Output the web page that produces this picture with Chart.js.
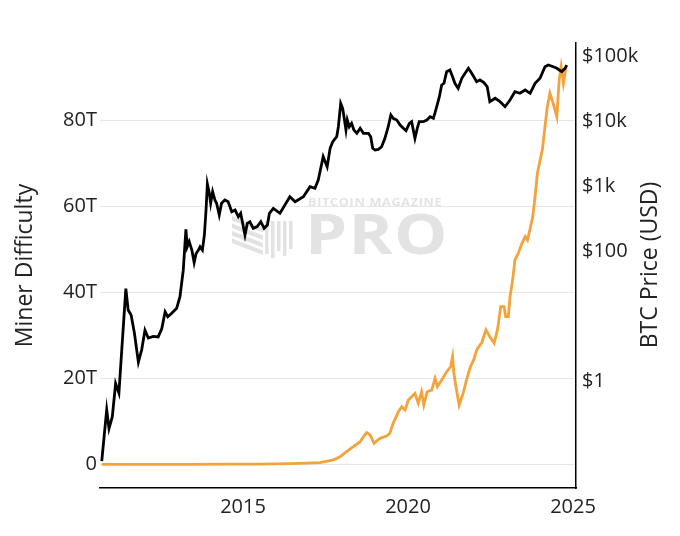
<!DOCTYPE html>
<html>
<head>
<meta charset="utf-8">
<script src="https://cdn.jsdelivr.net/npm/chart.js@4.4.1/dist/chart.umd.min.js"></script>
<style>
  html, body { margin: 0; padding: 0; background: #ffffff; }
  #wrap { width: 680px; height: 536px; position: relative; }
</style>
</head>
<body>
<div id="wrap"><canvas id="c" width="680" height="536"></canvas></div>
<script>
// ---- data ----
const xTickYears = [2015, 2020, 2025];

const diffTickValues = [0, 20, 40, 60, 80];
const diffTickLabels = ['0', '20T', '40T', '60T', '80T'];

const priceTickValues = [1, 100, 1000, 10000, 100000];
const priceTickLabels = ['$1', '$100', '$1k', '$10k', '$100k'];

// BTC price (USD), log axis on the right — drawn in black
const priceYears = [
  2010.72, 2010.87, 2010.94, 2011.04, 2011.14, 2011.24, 2011.45, 2011.52, 2011.61, 2011.71,
  2011.83, 2011.93, 2012.03, 2012.13, 2012.28, 2012.43, 2012.54, 2012.64, 2012.72, 2012.84,
  2012.99, 2013.09, 2013.19, 2013.27, 2013.31, 2013.37, 2013.45, 2013.52, 2013.58, 2013.65,
  2013.70, 2013.77, 2013.83, 2013.88, 2013.92, 2013.98, 2014.02, 2014.08, 2014.15, 2014.20,
  2014.28, 2014.35, 2014.45, 2014.55, 2014.66, 2014.76, 2014.86, 2014.93, 2015.01, 2015.06,
  2015.13, 2015.21, 2015.31, 2015.43, 2015.54, 2015.64, 2015.74, 2015.80, 2015.92, 2016.12,
  2016.42, 2016.58, 2016.83, 2017.03, 2017.18, 2017.28, 2017.43, 2017.55, 2017.64, 2017.72,
  2017.84, 2017.89, 2017.96, 2018.02, 2018.06, 2018.12, 2018.16, 2018.22, 2018.29, 2018.36,
  2018.45, 2018.55, 2018.65, 2018.80, 2018.87, 2018.93, 2019.00, 2019.10, 2019.20, 2019.30,
  2019.40, 2019.48, 2019.55, 2019.66, 2019.76, 2019.86, 2019.94, 2020.04, 2020.11, 2020.21,
  2020.28, 2020.34, 2020.46, 2020.57, 2020.67, 2020.77, 2020.87, 2020.95, 2021.02, 2021.09,
  2021.17, 2021.27, 2021.35, 2021.42, 2021.52, 2021.63, 2021.73, 2021.83, 2021.93, 2022.08,
  2022.18, 2022.30, 2022.40, 2022.48, 2022.64, 2022.79, 2022.94, 2023.09, 2023.24, 2023.39,
  2023.55, 2023.70, 2023.85, 2024.00, 2024.15, 2024.25, 2024.40, 2024.51, 2024.66, 2024.76,
  2024.81];
const priceUSD = [
  0.06, 0.37, 0.19, 0.29, 0.94, 0.67, 27, 12.7, 10.6, 5.6,
  2.0, 3.1, 6.2, 4.7, 5.0, 4.9, 6.6, 11.9, 10, 11.3,
  13.5, 20.3, 52, 221, 119, 143, 106, 68, 94, 106,
  119, 106, 181, 438, 1100, 791, 556, 838, 624, 556,
  367, 556, 624, 588, 412, 438, 345, 390, 243, 181,
  273, 290, 229, 243, 290, 229, 258, 390, 465, 390,
  702, 588, 702, 1000, 944, 1268, 2896, 2030, 3900, 4920,
  5880, 8380, 19190, 16070, 11940, 7450, 10620, 8380, 9440, 7450,
  6630, 7910, 6630, 6630, 5880, 3900, 3670, 3760, 4120, 5560,
  8380, 12680, 11270, 10620, 8900, 7910, 7280, 9440, 10000, 5560,
  7910, 10000, 10000, 10620, 11940, 11270, 17010, 24260, 36730, 38990,
  58750, 62370, 49200, 38990, 32640, 46550, 55590, 66370, 55590, 41210,
  43850, 40000, 34530, 20320, 22920, 20320, 17010, 21580, 28960, 27350,
  30760, 27350, 38990, 46550, 70140, 74470, 70000, 66370, 58750, 66370,
  74470];

// Miner difficulty (trillions), linear axis on the left — drawn in orange
const diffYears = [
  2010.72, 2011.5, 2012.5, 2013.5, 2014.5, 2015.5, 2016.0, 2016.73, 2017.33, 2017.74,
  2017.94, 2018.14, 2018.34, 2018.55, 2018.65, 2018.75, 2018.85, 2018.97, 2019.15, 2019.35,
  2019.45, 2019.55, 2019.71, 2019.81, 2019.91, 2020.01, 2020.11, 2020.21, 2020.31, 2020.41,
  2020.48, 2020.58, 2020.72, 2020.82, 2020.89, 2021.02, 2021.17, 2021.29, 2021.35, 2021.39,
  2021.47, 2021.55, 2021.67, 2021.77, 2021.89, 2021.99, 2022.08, 2022.18, 2022.23, 2022.36,
  2022.48, 2022.61, 2022.71, 2022.81, 2022.91, 2022.96, 2023.04, 2023.09, 2023.17, 2023.24,
  2023.34, 2023.45, 2023.55, 2023.62, 2023.70, 2023.78, 2023.85, 2023.92, 2024.00, 2024.07,
  2024.15, 2024.22, 2024.30, 2024.40, 2024.51, 2024.58, 2024.64, 2024.71, 2024.79];
const diffT = [
  0.00001, 0.000001, 0.000003, 0.00003, 0.02, 0.05, 0.1, 0.23, 0.37, 1.0,
  1.77, 2.93, 4.1, 5.26, 6.43, 7.36, 6.82, 4.89, 6.05, 6.59,
  7.22, 9.54, 12.25, 13.41, 12.64, 14.97, 15.74, 16.53, 14.2, 16.9,
  13.8, 16.9, 17.3, 20.0, 18.07, 19.6, 21.56, 22.7, 25.05, 21.2,
  17.3, 13.8, 16.53, 19.6, 22.7, 24.3, 26.6, 27.8, 28.2, 31.3,
  29.7, 28.2, 31.3, 36.7, 36.7, 34.4, 34.4, 39.0, 42.9, 47.6,
  49.1, 51.4, 53.0, 52.2, 54.9, 57.6, 62.3, 67.7, 70.8, 73.2,
  78.6, 83.2, 86.4, 84.0, 80.9, 89.5, 92.6, 88.7, 92.6];

// ---- chart ----
const FONT = '"Open Sans", "DejaVu Sans", sans-serif';
const TEXT = '#222222';

const watermark = {
  id: 'watermark',
  beforeDatasetsDraw(chart) {
    const ctx = chart.ctx;
    ctx.save();
    ctx.fillStyle = '#e2e2e2';
    // logo: diagonal bands + vertical bars
    for (let i = 0; i < 4; i++) {
      const y0 = 216 + i * 7.5;
      ctx.beginPath();
      ctx.moveTo(232, y0);
      ctx.lineTo(263, y0 + 12);
      ctx.lineTo(263, y0 + 16.5);
      ctx.lineTo(232, y0 + 4.5);
      ctx.closePath();
      ctx.fill();
    }
    const bars = [[265, 254], [271, 258], [277, 251], [283, 256], [289, 249]];
    bars.forEach(b => ctx.fillRect(b[0], 221, 3.5, b[1] - 221));
    ctx.fillStyle = '#e3e3e3';
    ctx.textAlign = 'left';
    ctx.textBaseline = 'alphabetic';
    ctx.save();
    ctx.translate(308, 206);
    ctx.scale(1.15, 1);
    ctx.font = 'bold 11px ' + FONT;
    try { ctx.letterSpacing = '0.6px'; } catch (e) {}
    ctx.fillText('BITCOIN MAGAZINE', 0, 0);
    ctx.restore();
    ctx.save();
    ctx.translate(305, 254);
    ctx.scale(1.2, 1);
    ctx.font = 'bold 56px ' + FONT;
    try { ctx.letterSpacing = '1px'; } catch (e) {}
    ctx.fillText('PRO', 0, 0);
    ctx.restore();
    ctx.restore();
  },
  afterDraw(chart) {
    const ctx = chart.ctx;
    ctx.save();
    ctx.translate(650, 265);
    ctx.rotate(-Math.PI / 2);
    ctx.font = '23px ' + FONT;
    ctx.fillStyle = TEXT;
    ctx.textAlign = 'center';
    ctx.textBaseline = 'middle';
    ctx.fillText('BTC Price (USD)', 0, 0);
    ctx.restore();
  }
};

new Chart(document.getElementById('c'), {
  type: 'line',
  data: {
    datasets: [
      {
        label: 'BTC Price',
        data: priceYears.map((x, i) => ({ x: x, y: priceUSD[i] })),
        yAxisID: 'yPrice',
        borderColor: '#000000',
        borderWidth: 2.8,
        pointRadius: 0,
        tension: 0,
        fill: false
      },
      {
        label: 'Miner Difficulty',
        data: diffYears.map((x, i) => ({ x: x, y: diffT[i] })),
        yAxisID: 'yDiff',
        borderColor: '#f4a23a',
        borderWidth: 2.8,
        pointRadius: 0,
        tension: 0,
        fill: false
      }
    ]
  },
  options: {
    responsive: false,
    animation: false,
    devicePixelRatio: 1,
    layout: { padding: { top: 43, left: 0, right: 0, bottom: 0 } },
    plugins: { legend: { display: false }, tooltip: { enabled: false } },
    scales: {
      x: {
        type: 'linear',
        min: 2010.667,
        max: 2025.09,
        afterBuildTicks: s => { s.ticks = xTickYears.map(v => ({ value: v })); },
        afterFit: s => { s.height = 48; },
        grid: { display: false, drawTicks: false },
        border: { display: true, color: '#000000', width: 1.5 },
        ticks: {
          padding: 7,
          maxRotation: 0,
          autoSkip: false,
          color: TEXT,
          font: { family: FONT, size: 20 },
          callback: v => String(v)
        }
      },
      yDiff: {
        type: 'linear',
        position: 'left',
        min: -5.52,
        max: 98.09,
        afterBuildTicks: s => { s.ticks = diffTickValues.map(v => ({ value: v })); },
        afterFit: s => { s.width = 100; },
        grid: { color: '#e6e6e6', lineWidth: 1, drawTicks: false },
        border: { display: false },
        ticks: {
          padding: 3,
          color: TEXT,
          font: { family: FONT, size: 20 },
          callback: v => diffTickLabels[diffTickValues.indexOf(v)]
        },
        title: {
          display: true,
          text: 'Miner Difficulty',
          color: TEXT,
          font: { family: FONT, size: 23 },
          padding: { top: 12, bottom: 0 }
        }
      },
      yPrice: {
        type: 'logarithmic',
        position: 'right',
        min: 0.0232,
        max: 162500,
        afterBuildTicks: s => { s.ticks = priceTickValues.map(v => ({ value: v })); },
        afterFit: s => { s.width = 104; },
        grid: { display: false, drawTicks: false },
        border: { display: true, color: '#000000', width: 1.5 },
        ticks: {
          padding: 6,
          color: TEXT,
          font: { family: FONT, size: 20 },
          callback: v => priceTickLabels[priceTickValues.indexOf(v)]
        }
      }
    }
  },
  plugins: [watermark]
});
</script>
</body>
</html>
